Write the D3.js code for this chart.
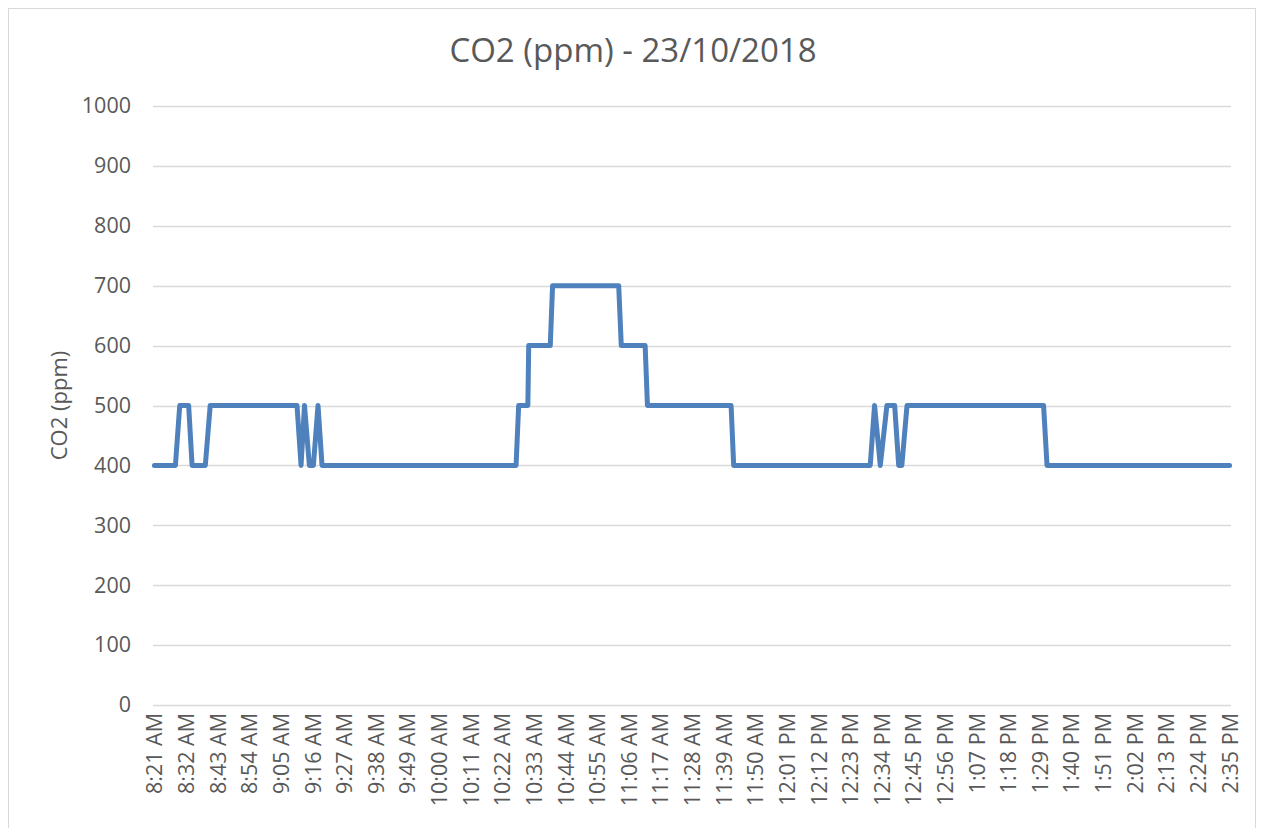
<!DOCTYPE html>
<html>
<head>
<meta charset="utf-8">
<script src="https://cdn.jsdelivr.net/npm/d3@7"></script>
<style>
  html, body { margin: 0; padding: 0; background: #ffffff; }
  svg { display: block; }
  text { font-family: "Open Sans", "Liberation Sans", sans-serif; fill: #595959; }
</style>
</head>
<body>
<script>
// ---- data ----
const chartTitle = "CO2 (ppm) - 23/10/2018";
const yAxisTitle = "CO2 (ppm)";
// x tick labels (every 11 minutes starting 8:21 AM)
const timeLabels = ["8:21 AM","8:32 AM","8:43 AM","8:54 AM","9:05 AM","9:16 AM","9:27 AM","9:38 AM","9:49 AM",
  "10:00 AM","10:11 AM","10:22 AM","10:33 AM","10:44 AM","10:55 AM","11:06 AM","11:17 AM","11:28 AM","11:39 AM",
  "11:50 AM","12:01 PM","12:12 PM","12:23 PM","12:34 PM","12:45 PM","12:56 PM","1:07 PM","1:18 PM","1:29 PM",
  "1:40 PM","1:51 PM","2:02 PM","2:13 PM","2:24 PM","2:35 PM"];
const labelStepMinutes = 11;
const totalMinutes = 375; // readings from 8:21 AM to 2:35 PM
// readings: minutes after 8:21 AM, and CO2 ppm
const minuteOffsets = [0, 7.3, 8.8, 11.9, 13.1, 17.7, 19.4, 49.6, 51.0, 52.2, 53.9, 55.3, 56.9, 58.3,
  125.8, 126.7, 129.9, 130.2, 137.7, 138.5, 161.5, 162.4, 170.7, 171.5, 200.6, 201.5,
  249, 250.5, 252.5, 254.8, 257.5, 258.9, 260.0, 261.8, 309.3, 310.5, 374];
const co2Values = [400, 400, 500, 500, 400, 400, 500, 500, 400, 500, 400, 400, 500, 400,
  400, 500, 500, 600, 600, 700, 700, 600, 600, 500, 500, 400,
  400, 500, 400, 500, 500, 400, 400, 500, 500, 400, 400];
const yTicks = [0, 100, 200, 300, 400, 500, 600, 700, 800, 900, 1000];

// ---- layout ----
const W = 1261, H = 828;
const plot = { left: 153, right: 1231, top: 106, bottom: 705 };

const svg = d3.select("body").append("svg").attr("width", W).attr("height", H);

// chart border
svg.append("rect")
  .attr("x", 8.5).attr("y", 8.5).attr("width", 1247).attr("height", 830)
  .attr("fill", "#ffffff").attr("stroke", "#d9d9d9").attr("stroke-width", 1);

const x = d3.scaleLinear().domain([-0.5, totalMinutes - 0.5]).range([plot.left, plot.right]);
const y = d3.scaleLinear().domain([0, 1000]).range([plot.bottom, plot.top]);

// gridlines
svg.append("g")
  .selectAll("line").data(yTicks).join("line")
  .attr("x1", plot.left).attr("x2", plot.right)
  .attr("y1", d => Math.round(y(d)) + 0.5).attr("y2", d => Math.round(y(d)) + 0.5)
  .attr("stroke", "#d9d9d9").attr("stroke-width", 1.5);

// y axis labels
const yAxis = d3.axisLeft(y).tickValues(yTicks).tickSize(0).tickPadding(0).tickFormat(d3.format("d"));
const gy = svg.append("g").attr("transform", `translate(${plot.left - 22},0)`).call(yAxis);
gy.select(".domain").remove();
gy.selectAll("text").style("font-size", "21.5px").attr("fill", "#595959");

// x axis labels
const tickMinutes = timeLabels.map((_, i) => i * labelStepMinutes);
const xAxis = d3.axisBottom(x).tickValues(tickMinutes).tickSize(0)
  .tickFormat((d, i) => timeLabels[i]);
const gx = svg.append("g").attr("transform", `translate(0,${plot.bottom})`).call(xAxis);
gx.select(".domain").remove();
gx.selectAll("text")
  .style("font-size", "21.5px").attr("fill", "#595959")
  .attr("text-anchor", "end")
  .attr("dy", "0.35em")
  .attr("transform", "translate(0,8) rotate(-90)")
  .attr("x", 0).attr("y", 0);

// line
const pts = minuteOffsets.map((m, i) => [m, co2Values[i]]);
svg.append("path")
  .datum(pts)
  .attr("fill", "none")
  .attr("stroke", "#4f81bd")
  .attr("stroke-width", 5)
  .attr("stroke-linejoin", "round")
  .attr("stroke-linecap", "round")
  .attr("d", d3.line().x(d => x(d[0])).y(d => y(d[1])));

// title
svg.append("text")
  .attr("x", 633).attr("y", 62)
  .attr("text-anchor", "middle")
  .style("font-size", "33px")
  .text(chartTitle);

// y axis title
svg.append("text")
  .attr("transform", `translate(67,${(plot.top + plot.bottom) / 2}) rotate(-90)`)
  .attr("text-anchor", "middle")
  .style("font-size", "22px")
  .text(yAxisTitle);
</script>
</body>
</html>
